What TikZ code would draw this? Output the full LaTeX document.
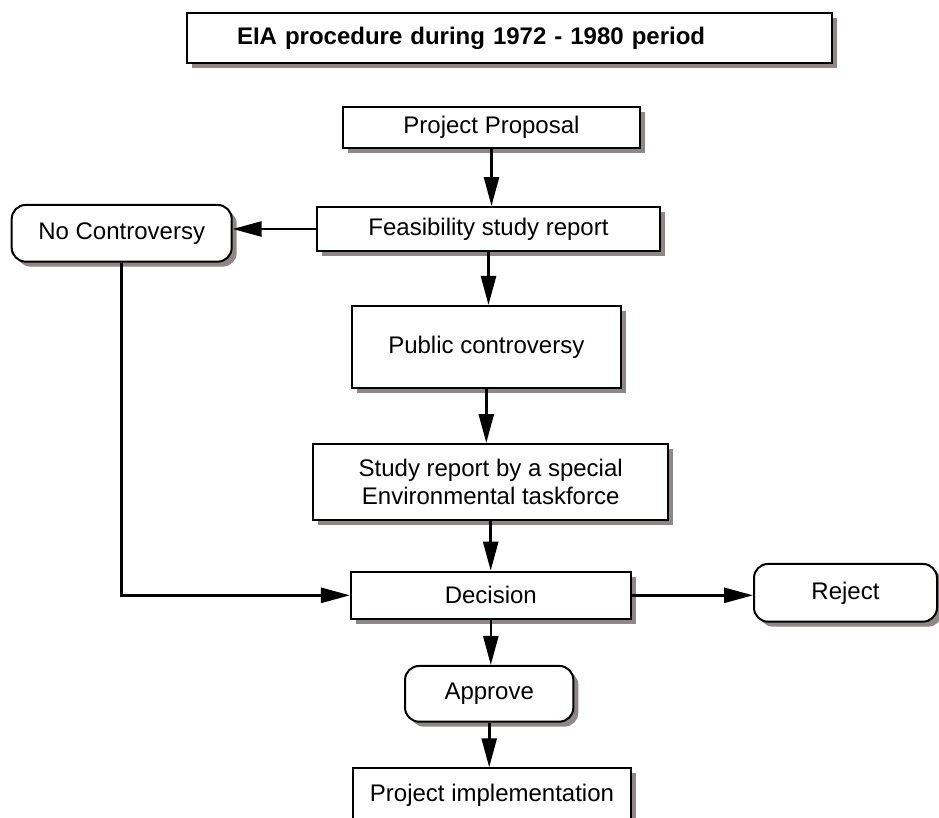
\documentclass[tikz,border=0pt]{standalone}
\usepackage{fontspec}
\setmainfont{Liberation Sans}
\usetikzlibrary{arrows.meta,shadows}

\definecolor{shadowgray}{RGB}{143,135,135}

\tikzset{every picture/.style={line width=2pt}}
\tikzset{
  stepbox/.style={draw, fill=white, line width=2pt, inner sep=0pt,
    font=\fontsize{24}{28.3}\selectfont, align=center,
    drop shadow={shadow xshift=5pt, shadow yshift=-5pt, fill=shadowgray, opacity=1}},
  endbox/.style={stepbox, rounded corners=14pt},
  flow/.style={line width=2.6pt, -{Triangle[length=29pt,width=15pt]}}
}

\begin{document}
\begin{tikzpicture}[x=1pt,y=1pt,yscale=-1,xscale=1]
\useasboundingbox (0,0) rectangle (939,817);
\clip (0,0) rectangle (939,817);

% Title
\node [stepbox, minimum width=645, minimum height=50, inner xsep=50, text width=545, align=left, font=\fontsize{24}{28.3}\selectfont\bfseries] (title) at (509.5,38.2) {EIA procedure during 1972 - 1980 period};

% Steps
\node [stepbox, minimum width=297, minimum height=41] (proposal) at (491.5,127.2) {Project Proposal};
\node [stepbox, minimum width=343, minimum height=44] (feasibility) at (488.5,229) {Feasibility study report};
\node [endbox, minimum width=220, minimum height=56.7] (nocontro) at (121.7,233.3) {No Controversy};
\node [stepbox, minimum width=269.3, minimum height=81.7] (public) at (486.3,346.8) {Public controversy};
\node [stepbox, minimum width=355, minimum height=76] (taskforce) at (490.7,482) {Study report by a special\\Environmental taskforce};
\node [stepbox, minimum width=279.7, minimum height=47.3] (decision) at (490.8,595.3) {Decision};
\node [endbox, minimum width=183, minimum height=57.7] (reject) at (845.5,592.8) {Reject};
\node [endbox, minimum width=168.3, minimum height=55.7] (approve) at (489.2,693.8) {Approve};
\node [stepbox, minimum width=277.4, minimum height=54] (implement) at (492,795.3) {Project implementation};

% Connectors
\draw [flow] (proposal.south) -- (proposal.south |- feasibility.north);
\draw [flow] (feasibility.west) -- (feasibility.west -| nocontro.east);
\draw [flow] (feasibility.south) -- (feasibility.south |- public.north);
\draw [flow] (public.south) -- (public.south |- taskforce.north);
\draw [flow] (taskforce.south) -- (taskforce.south |- decision.north);
\draw [flow] (nocontro.south) |- (decision.west);
\draw [flow] (decision.east) -- (decision.east -| reject.west);
\draw [flow] (decision.south) -- (decision.south |- approve.north);
\draw [flow] (approve.south) -- (approve.south |- implement.north);

\end{tikzpicture}
\end{document}
